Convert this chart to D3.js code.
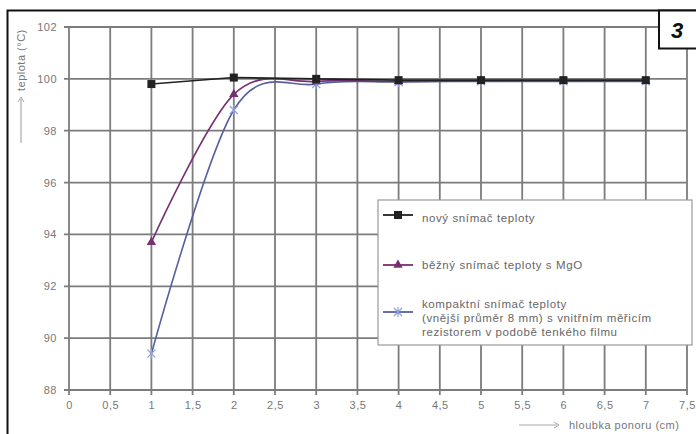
<!DOCTYPE html>
<html>
<head>
<meta charset="utf-8">
<script src="https://cdn.jsdelivr.net/npm/d3@7"></script>
<style>
  body { margin: 0; background: #fff; }
  text { font-family: "Liberation Sans", Arial, sans-serif; }
</style>
</head>
<body>
<svg id="chart" width="696" height="434"></svg>
<script>
// Data
const depths = [1, 2, 3, 4, 5, 6, 7];
const novy = [99.8, 100.05, 100.0, 99.95, 99.95, 99.95, 99.95];
const mgo = [93.7, 99.4, 99.9, 99.9, 99.92, 99.92, 99.92];
const kompakt = [89.4, 98.8, 99.8, 99.88, 99.9, 99.9, 99.9];
const xTicks = [0, 0.5, 1, 1.5, 2, 2.5, 3, 3.5, 4, 4.5, 5, 5.5, 6, 6.5, 7, 7.5];
const yTicks = [88, 90, 92, 94, 96, 98, 100, 102];
const legendLabels = [
  ["nový snímač teploty"],
  ["běžný snímač teploty s MgO"],
  ["kompaktní snímač teploty", "(vnější průměr 8 mm) s vnitřním měřicím", "rezistorem v podobě tenkého filmu"]
];

const svg = d3.select("#chart");
const labelStyle = sel => sel.attr("fill", "#777").style("font-size", "11px").style("letter-spacing", "0.5px");

// Frame
svg.append("path")
  .attr("d", "M7.5,434 V10.5 H696")
  .attr("fill", "none").attr("stroke", "#111").attr("stroke-width", 2);

// Scales
const x = d3.scaleLinear().domain([0, 7.5]).range([69, 687]);
const y = d3.scaleLinear().domain([88, 102]).range([390, 27]);

// Grid
const grid = svg.append("g").attr("stroke", "#7c7c7c").attr("stroke-width", 1.8);
grid.selectAll(".vg").data(xTicks).enter().append("line")
  .attr("x1", d => x(d)).attr("x2", d => x(d))
  .attr("y1", y(102)).attr("y2", y(88) + 5);
grid.selectAll(".hg").data(yTicks).enter().append("line")
  .attr("x1", x(0) - 5).attr("x2", x(7.5))
  .attr("y1", d => y(d)).attr("y2", d => y(d));

// Tick labels
const xAxis = d3.axisBottom(x).tickValues(xTicks).tickSize(0).tickPadding(11)
  .tickFormat(d => String(d).replace(".", ","));
svg.append("g").attr("transform", "translate(0," + y(88) + ")").call(xAxis)
  .call(g => g.select(".domain").remove())
  .selectAll("text").call(labelStyle);

const yAxis = d3.axisLeft(y).tickValues(yTicks).tickSize(0).tickPadding(12);
svg.append("g").attr("transform", "translate(" + x(0) + ",0)").call(yAxis)
  .call(g => g.select(".domain").remove())
  .selectAll("text").call(labelStyle);

// Axis titles with arrows
const ytitle = svg.append("g").attr("transform", "translate(25,0) rotate(-90)");
ytitle.append("line").attr("x1", -143).attr("x2", -99).attr("y1", -4).attr("y2", -4)
  .attr("stroke", "#aaa").attr("stroke-width", 1.2);
ytitle.append("path").attr("d", "M-102,-7 L-97,-4 L-102,-1").attr("fill", "none").attr("stroke", "#aaa");
ytitle.append("text").attr("x", -91).attr("y", 0).call(labelStyle).text("teplota (°C)");

const xtitle = svg.append("g").attr("transform", "translate(0,429)");
xtitle.append("line").attr("x1", 519).attr("x2", 557).attr("y1", -4).attr("y2", -4)
  .attr("stroke", "#aaa").attr("stroke-width", 1.2);
xtitle.append("path").attr("d", "M554,-7 L559,-4 L554,-1").attr("fill", "none").attr("stroke", "#aaa");
xtitle.append("text").attr("x", 569).attr("y", 0).call(labelStyle).text("hloubka ponoru (cm)");

// Series
const series = [
  { vals: kompakt, color: "#55619f", marker: "x", curve: d3.curveCardinal.tension(0) },
  { vals: mgo, color: "#74306f", marker: "tri", curve: d3.curveCardinal.tension(0) },
  { vals: novy, color: "#222", marker: "sq", curve: d3.curveLinear }
];

function drawMarker(g, type, color) {
  if (type === "sq") {
    g.append("rect").attr("x", -4).attr("y", -4).attr("width", 8).attr("height", 8).attr("fill", color);
  } else if (type === "tri") {
    g.append("path").attr("d", d3.symbol(d3.symbolTriangle, 38)()).attr("fill", color);
  } else {
    g.append("path").attr("d", "M-4,-4L4,4M-4,4L4,-4M0,-5V5").attr("stroke", "#8fa0d8").attr("stroke-width", 1.2);
  }
}

series.forEach(s => {
  const pts = depths.map((d, i) => [d, s.vals[i]]);
  svg.append("path")
    .datum(pts)
    .attr("fill", "none")
    .attr("stroke", s.color)
    .attr("stroke-width", 1.6)
    .attr("d", d3.line().x(d => x(d[0])).y(d => y(d[1])).curve(s.curve));
  pts.forEach(p => {
    const g = svg.append("g").attr("transform", "translate(" + x(p[0]) + "," + y(p[1]) + ")");
    drawMarker(g, s.marker, s.color);
  });
});

// Legend
const lg = svg.append("g");
lg.append("rect").attr("x", 378).attr("y", 200).attr("width", 314).attr("height", 145)
  .attr("fill", "#fff").attr("stroke", "#999").attr("stroke-width", 1.2);
const legendSeries = [series[2], series[1], series[0]];
const rowY = [215, 265, 312];
const textY = [[222], [269], [308, 322, 336]];
legendSeries.forEach((s, i) => {
  lg.append("line").attr("x1", 383).attr("x2", 413).attr("y1", rowY[i]).attr("y2", rowY[i])
    .attr("stroke", s.color).attr("stroke-width", 1.8);
  const g = lg.append("g").attr("transform", "translate(398," + rowY[i] + ")");
  drawMarker(g, s.marker, s.color);
  legendLabels[i].forEach((t, j) => {
    lg.append("text").attr("x", 422).attr("y", textY[i][j])
      .attr("fill", "#666").style("font-size", "11.5px").style("letter-spacing", "0.6px").text(t);
  });
});

// Figure number box
svg.append("rect").attr("x", 659).attr("y", 10.5).attr("width", 40).attr("height", 38)
  .attr("fill", "#fff").attr("stroke", "#111").attr("stroke-width", 2);
svg.append("text").attr("x", 677).attr("y", 38).attr("text-anchor", "middle")
  .attr("fill", "#111").style("font-size", "22px").style("font-weight", "bold")
  .style("font-style", "italic").text("3");
</script>
</body>
</html>
